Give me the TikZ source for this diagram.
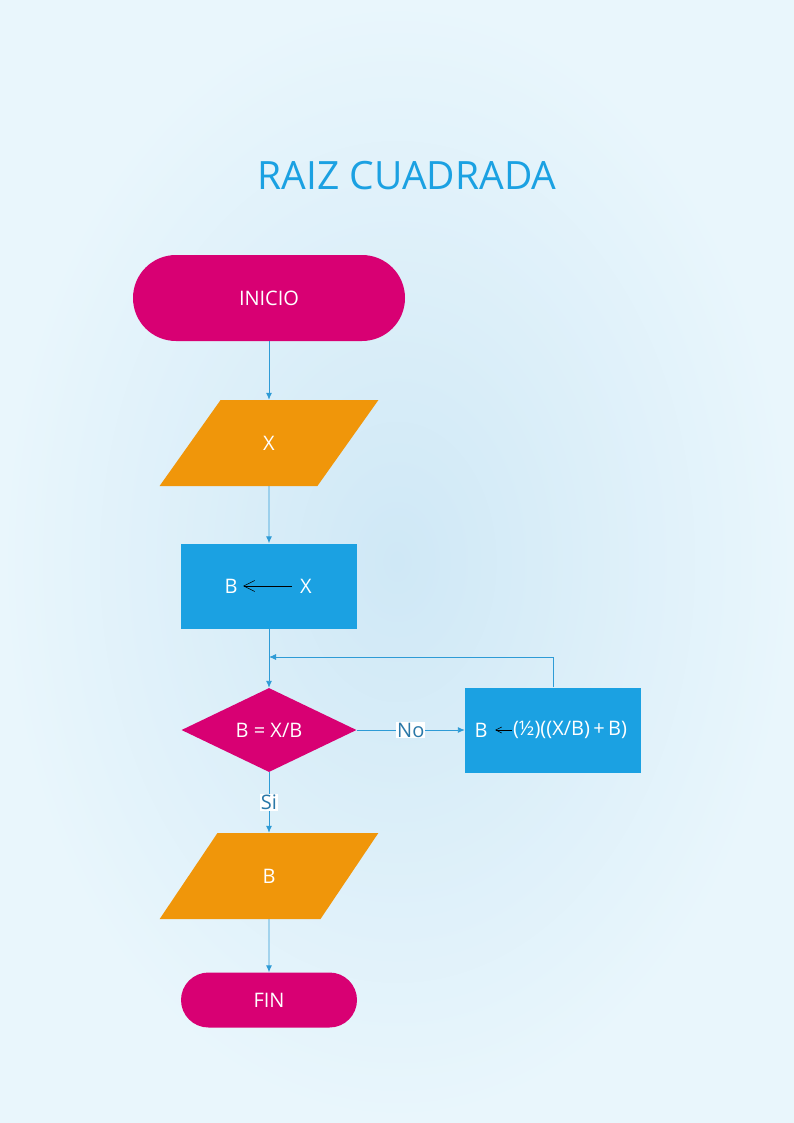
\documentclass[tikz,border=0pt]{standalone}
\usepackage{fontspec}
\setmainfont{Open Sans}
\usetikzlibrary{arrows.meta,shapes.geometric}
\definecolor{rosa}{HTML}{D80073}
\definecolor{naranja}{HTML}{F0960A}
\definecolor{azul}{HTML}{1BA1E2}
\definecolor{linea}{HTML}{2E9BD6}
\definecolor{etiq}{HTML}{2A78A8}
\definecolor{fondoA}{HTML}{CFE8F6}
\definecolor{fondoB}{HTML}{E9F6FC}
\tikzset{
  texto/.style={text=white,font=\fontsize{20}{24}\selectfont},
  terminal/.style={texto,fill=rosa,rounded corners=#1,inner sep=0pt},
  datos/.style={texto,fill=naranja,shape=trapezium,trapezium left angle=63,
    trapezium right angle=117,trapezium stretches=true,
    minimum width=219pt,minimum height=86pt,inner sep=0pt},
  proceso/.style={texto,fill=azul,minimum width=176pt,minimum height=85pt,inner sep=0pt},
  decision/.style={texto,fill=rosa,shape=diamond,minimum width=175pt,minimum height=84pt,inner sep=0pt},
  flujo/.style={draw=linea,line width=0.9pt,-{Latex[length=7pt,width=6pt]}},
  asigna/.style={draw=black,line width=0.6pt,-{Straight Barb[length=#1,width=#1]}},
  etiqueta/.style={fill=white,text=etiq,inner sep=1pt,font=\fontsize{20}{22}\selectfont}
}
\begin{document}
\begin{tikzpicture}[x=1pt,y=-1pt]
\shade[inner color=fondoA,outer color=fondoB] (0,0) rectangle (794,1123);
\useasboundingbox (0,0) rectangle (794,1123);
\node[text=azul,font=\fontsize{39}{46}\selectfont] (titulo) at (407,176) {RAIZ CUADRADA};
\node[terminal=43pt,minimum width=272pt,minimum height=86pt] (inicio) at (269,298) {INICIO};
\node[datos] (leer) at (269,443) {X};
\node[proceso] (init) at (269,586) {};
\node[texto] (b1) at (231,586) {B};
\node[texto] (x1) at (306,586) {X};
\node[decision] (test) at (269,730) {B = X/B};
\node[proceso] (calc) at (553,730) {};
\node[texto] (b2) at (481,730) {B};
\node[texto,inner sep=1pt] (expr) at (570,730) {(½)((X/B)\,+\,B)};
\node[datos] (escribir) at (269,876) {B};
\node[terminal=27.5pt,minimum width=176pt,minimum height=55pt] (fin) at (269,1000) {FIN};
\coordinate (union) at (269,657);
% conectores
\draw[flujo] (inicio) -- (leer);
\draw[flujo] (leer) -- (init);
\draw[flujo] (init) -- (test);
\draw[flujo] (test) -- node[etiqueta] {No} (calc);
\draw[flujo] (test) -- node[etiqueta] {Si} (escribir);
\draw[flujo] (escribir) -- (fin);
\draw[flujo] (calc.north) |- (union);
\draw[asigna=11pt] ([xshift=-5pt]x1.west) -- ([xshift=2pt]b1.east);
\draw[asigna=6pt] (expr.west) -- ([xshift=4pt]b2.east);
\end{tikzpicture}
\end{document}
